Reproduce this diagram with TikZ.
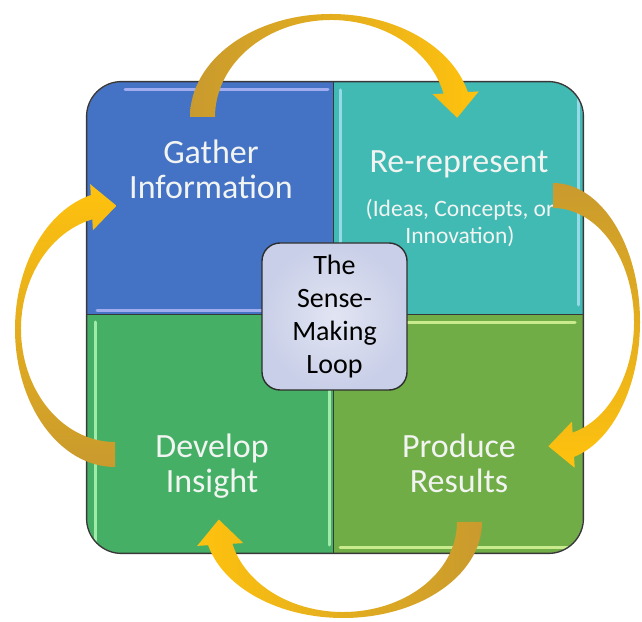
\documentclass[tikz,border=0pt]{standalone}
\usepackage{fontspec}
\setmainfont{Carlito}
\usetikzlibrary{calc}
\definecolor{gatherblue}{HTML}{4472C4}
\definecolor{repteal}{HTML}{41BAB4}
\definecolor{insightgreen}{HTML}{45B065}
\definecolor{resultsgreen}{HTML}{70AD47}
\definecolor{loopfill}{HTML}{C9CFE8}
\definecolor{goldtail}{HTML}{C99A2E}
\definecolor{goldhead}{HTML}{FFC20E}
\definecolor{titletext}{HTML}{F2F4F2}
\tikzset{
    quad/.style={rectangle, inner sep=0pt, draw=none},
    gloss/.style={line width=3pt, line cap=round, opacity=.75},
    outline/.style={draw=black!78, line width=1.4pt},
    title/.style={align=center, inner sep=0pt, text=titletext, font=\fontsize{34}{35}\selectfont},
    subtitle/.style={align=center, inner sep=0pt, text=titletext, font=\fontsize{23.5}{27}\selectfont},
    loopbox/.style={rectangle, rounded corners=18pt, draw=black!82, line width=1.4pt,
        inner color=white!45!loopfill, outer color=loopfill, align=center,
        minimum width=145pt, minimum height=147pt, inner sep=0pt, font=\fontsize{28}{33}\selectfont},
    loopband/.style={left color=goldtail, right color=goldhead},
    pics/looparrow/.style n args={2}{code={
        \pgfmathsetmacro\ra{#1}\pgfmathsetmacro\rb{#2}
        \pgfmathsetmacro\rai{#1-25}\pgfmathsetmacro\rbi{#2-6}
        \coordinate (-po) at ({\ra*cos(14)},{\rb*sin(14)});
        \coordinate (-pi) at ({\rai*cos(14)},{\rbi*sin(14)});
        \coordinate (-m) at ($(-po)!.5!(-pi)$);
        \shade[loopband] (-\ra,0) arc[start angle=180, end angle=14, x radius=\ra, y radius=\rb]
            -- ($(-po)!-.45!(-pi)$) -- ($(-m)!25pt!-90:(-po)$) -- ($(-pi)!-.45!(-po)$)
            -- (-pi) arc[start angle=14, end angle=180, x radius=\rai, y radius=\rbi] -- cycle;
    }}
}
\begin{document}
\begin{tikzpicture}[x=1pt, y=1pt]
        \useasboundingbox (0,0) rectangle (642,621);
        \coordinate (mid) at (333,306);

        \begin{scope}
        \clip[rounded corners=35pt] (87,68) rectangle (583,539);
        \node[quad, fill=gatherblue, anchor=south east, minimum width=246pt, minimum height=233pt] (gather) at (mid) {};
        \node[quad, fill=repteal, anchor=south west, minimum width=250pt, minimum height=233pt] (rerep) at (mid) {};
        \node[quad, fill=insightgreen, anchor=north east, minimum width=246pt, minimum height=238pt] (insight) at (mid) {};
        \node[quad, fill=resultsgreen, anchor=north west, minimum width=250pt, minimum height=238pt] (results) at (mid) {};

        \draw[gloss, color=blue!25!white] (125,531) -- (328,531);
        \draw[gloss, color=blue!25!white] (97,310) -- (328,310);
        \draw[gloss, color=cyan!30!white] (340,531) -- (340,321);
        \draw[gloss, color=cyan!30!white] (578,531) -- (578,316);
        \draw[gloss, color=green!25!white] (95,299) -- (95,76);
        \draw[gloss, color=green!25!white] (329,299) -- (329,76);
        \draw[gloss, color=lime!35!white] (340,298) -- (575,298);
        \draw[gloss, color=lime!35!white] (340,74) -- (575,74);
        \end{scope}

        \draw[outline, rounded corners=35pt] (gather.north west) rectangle (results.south east);
        \draw[outline, line width=1pt] (gather.north east) -- (insight.south east);
        \draw[outline, line width=1pt] (gather.south west) -- (rerep.south east);

        \node[title] (gathertxt) at (211,451.5) {Gather\\Information};
        \node[title, anchor=base] (reptxt) at (459,448) {Re-represent};
        \node[subtitle] (repsub) at (460,397.5) {(Ideas, Concepts, or\\Innovation)};
        \node[title] (insighttxt) at (212,155) {Develop\\Insight};
        \node[title] (resultstxt) at (459,158) {Produce\\Results};

        \coordinate (topc) at (331,504);
        \coordinate (rightc) at (553,299);
        \coordinate (bottomc) at (343,99);
        \coordinate (leftc) at (115,292);
        \pic (toparrow) at (topc) {looparrow={141}{103}};
        \pic[rotate=-90, loopband/.style={top color=goldtail, bottom color=goldhead}] (rightarrow) at (rightc) {looparrow={139}{87}};
        \pic[rotate=180, loopband/.style={left color=goldhead, right color=goldtail}] (bottomarrow) at (bottomc) {looparrow={139}{96}};
        \pic[rotate=90, loopband/.style={bottom color=goldtail, top color=goldhead}] (leftarrow) at (leftc) {looparrow={138}{100}};

        \node[loopbox] (loop) at (334.5,304.5) {The\\Sense-\\Making\\Loop};
    \end{tikzpicture}
\end{document}
